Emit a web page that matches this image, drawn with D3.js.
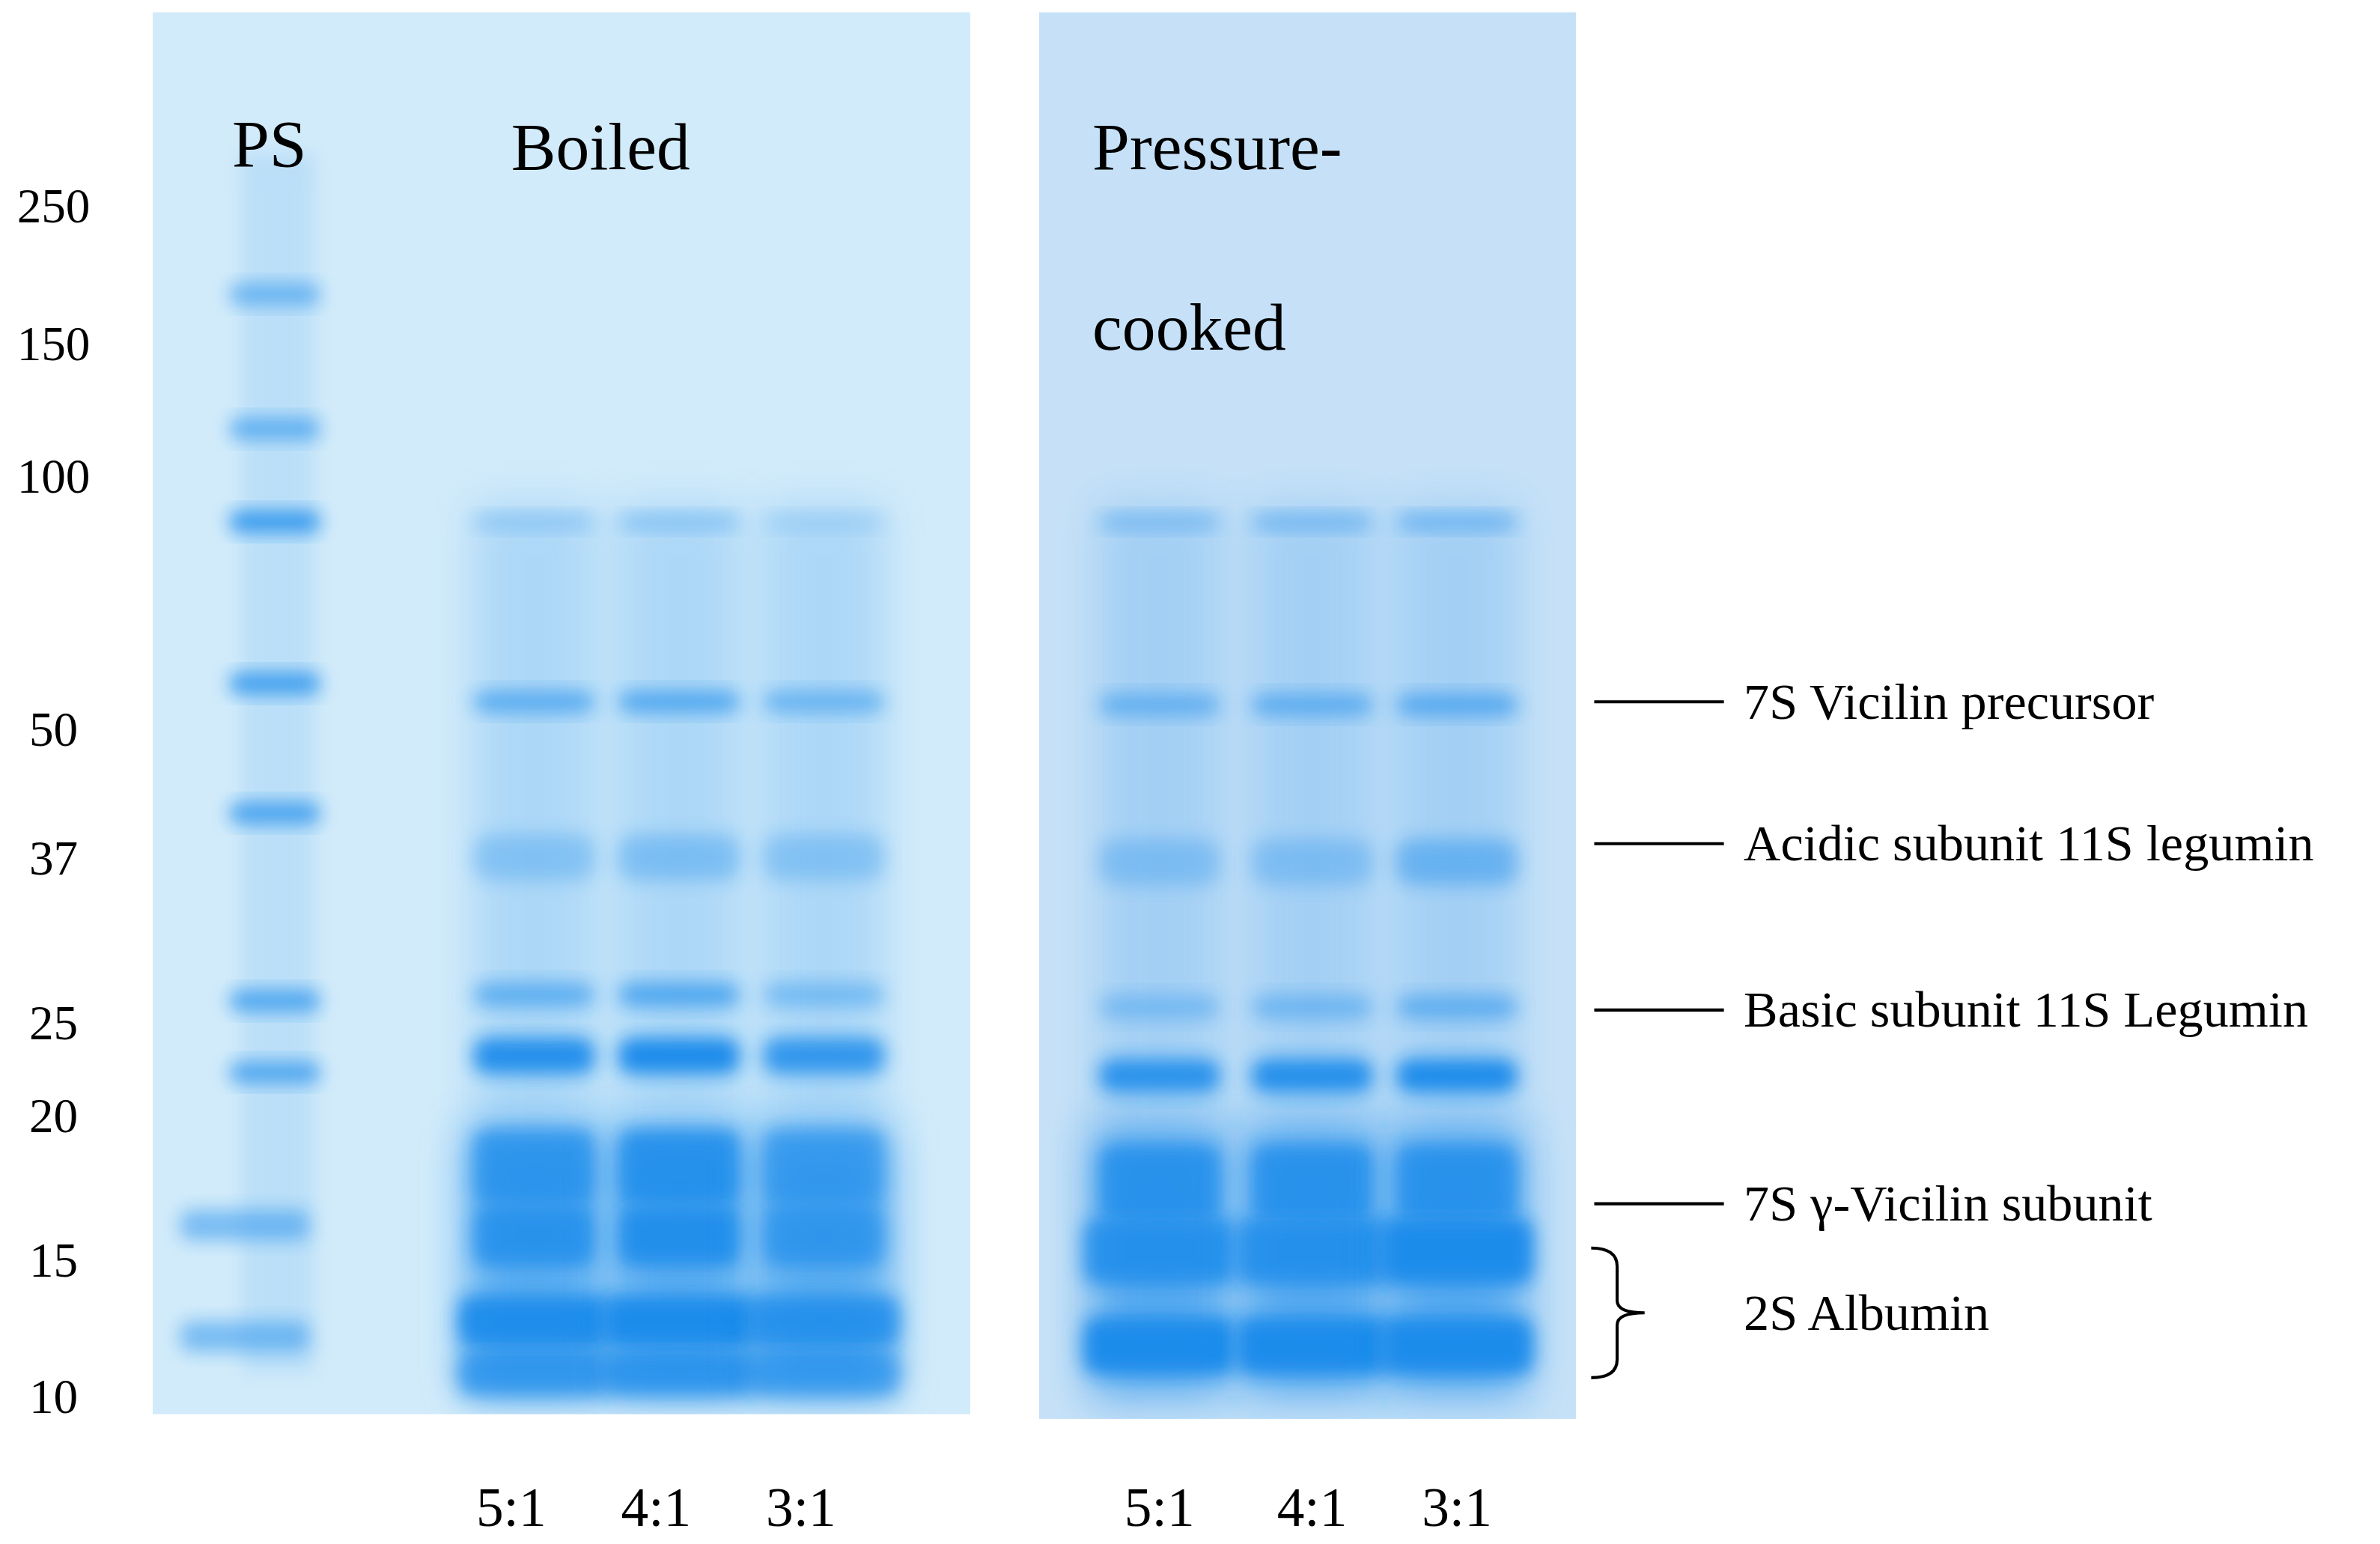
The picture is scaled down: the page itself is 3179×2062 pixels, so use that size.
<!DOCTYPE html>
<html><head><meta charset="utf-8">
<script src="https://cdn.jsdelivr.net/npm/d3@7/dist/d3.min.js"></script>
<style>body{margin:0;background:#fff}</style>
</head><body><div id="chart"></div>
<script>
// molecular weight ladder labels (kDa) and the gel row they sit at
var mwLabels = ["250","150","100","50","37","25","20","15","10"];
var mwRows = [135, 225, 312, 478, 562, 670, 731, 826, 915];
// marker bands (PS lane): row, strength
var markerRows = [193, 281, 342, 448, 533, 656, 703, 803, 876];
var markerStrength = [0.55, 0.6, 0.85, 0.8, 0.75, 0.7, 0.7, 0.5, 0.5];

var laneLabels = ["5:1", "4:1", "3:1"];
var boiledX = [350, 445, 540];
var cookedX = [760, 860, 955];

// sample bands: row, thickness, strength per lane
var boiledRows = [342, 460, 562, 652, 692, 765, 810, 866, 900];
var boiledSize = [10, 14, 30, 16, 24, 50, 40, 34, 30];
var boiledStrength = [
  [0.3, 0.6, 0.3, 0.55, 0.95, 0.75, 0.8, 0.95, 0.75],
  [0.35, 0.65, 0.35, 0.65, 1.0, 0.85, 0.9, 1.0, 0.8],
  [0.2, 0.5, 0.3, 0.4, 0.85, 0.65, 0.7, 0.85, 0.7]
];
var cookedRows = [342, 462, 565, 660, 705, 775, 820, 882];
var cookedSize = [10, 14, 30, 16, 22, 50, 44, 38];
var cookedStrength = [
  [0.4, 0.5, 0.3, 0.35, 0.9, 0.8, 0.85, 1.0],
  [0.45, 0.55, 0.3, 0.4, 0.95, 0.8, 0.85, 1.0],
  [0.5, 0.6, 0.45, 0.5, 1.0, 0.8, 1.0, 1.0]
];

var annotations = ["7S Vicilin precursor", "Acidic subunit 11S legumin", "Basic subunit 11S Legumin", "7S \u03b3-Vicilin subunit"];
var annotationRows = [460, 553, 662, 789];

var W = 1560, H = 1012;
var svg = d3.select("#chart").append("svg")
  .attr("width", 3179).attr("height", 2062)
  .attr("viewBox", "0 0 " + W + " " + H);

var y = d3.scaleLinear().domain([0, 1012]).range([0, H]);

var defs = svg.append("defs");
defs.append("filter").attr("id", "blur").attr("x", "-50%").attr("y", "-50%").attr("width", "200%").attr("height", "200%")
  .append("feGaussianBlur").attr("stdDeviation", 6);
defs.append("filter").attr("id", "blur2").attr("x", "-50%").attr("y", "-50%").attr("width", "200%").attr("height", "200%")
  .append("feGaussianBlur").attr("stdDeviation", 14);

var gels = [[100, 8, 536, 927, "#d2ebfa"], [681, 8, 352, 930, "#c6e1f7"]];
gels.forEach(function(g, i) {
  defs.append("clipPath").attr("id", "gel" + i).append("rect")
    .attr("x", g[0]).attr("y", y(g[1])).attr("width", g[2]).attr("height", y(g[3]) - y(g[1]));
});

var font = "'Liberation Serif', 'DejaVu Serif', serif";
var band = "#1a8ceb";

var gelG = gels.map(function(g, i) {
  var gg = svg.append("g").attr("clip-path", "url(#gel" + i + ")");
  gg.append("rect").attr("x", g[0]).attr("y", y(g[1])).attr("width", g[2]).attr("height", y(g[3]) - y(g[1])).attr("fill", g[4]);
  return gg;
});

// marker lane smear
gelG[0].append("rect").attr("x", 158).attr("y", y(100)).attr("width", 48).attr("height", y(900) - y(100))
  .attr("fill", band).attr("opacity", 0.12).attr("filter", "url(#blur)");
gelG[0].selectAll(".mk").data(markerRows).enter().append("rect")
  .attr("x", function(d, i) { return i > 6 ? 118 : 150; })
  .attr("width", function(d, i) { return i > 6 ? 85 : 60; })
  .attr("y", function(d, i) { return y(d) - (i > 6 ? 10 : 7); })
  .attr("height", function(d, i) { return i > 6 ? 20 : 14; }).attr("rx", 7)
  .attr("fill", band).attr("opacity", function(d, i) { return markerStrength[i]; })
  .attr("filter", "url(#blur)");

function drawLanes(g, xs, rows, sizes, strength, w) {
  xs.forEach(function(cx, li) {
    g.append("rect").attr("x", cx - w / 2).attr("y", y(330)).attr("width", w).attr("height", y(910) - y(330))
      .attr("fill", band).attr("opacity", 0.2).attr("filter", "url(#blur2)");
    g.append("rect").attr("x", cx - w / 2 - 5).attr("y", y(740)).attr("width", w + 10).attr("height", y(915) - y(740))
      .attr("fill", band).attr("opacity", 0.55).attr("filter", "url(#blur2)");
    g.selectAll(null).data(rows).enter().append("rect")
      .attr("x", function(d, i) { return cx - w / 2 - (i >= rows.length - 2 ? 10 : 0); })
      .attr("width", function(d, i) { return w + (i >= rows.length - 2 ? 20 : 0); })
      .attr("y", function(d, i) { return y(d) - sizes[i] / 2; })
      .attr("height", function(d, i) { return sizes[i]; })
      .attr("rx", 10)
      .attr("fill", band)
      .attr("opacity", function(d, i) { return strength[li][i]; })
      .attr("filter", "url(#blur)");
  });
}
drawLanes(gelG[0], boiledX, boiledRows, boiledSize, boiledStrength, 80);
drawLanes(gelG[1], cookedX, cookedRows, cookedSize, cookedStrength, 80);

// MW labels
svg.selectAll(".mw").data(mwLabels).enter().append("text")
  .attr("x", 35).attr("y", function(d, i) { return y(mwRows[i]) + 11; })
  .attr("text-anchor", "middle").attr("font-family", font).attr("font-size", 32)
  .text(function(d) { return d; });

// titles
var titles = [["PS", 152, 95], ["Boiled", 335, 97], ["Pressure-", 716, 97], ["cooked", 716, 215]];
svg.selectAll(".tt").data(titles).enter().append("text")
  .attr("x", function(d) { return d[1]; }).attr("y", function(d) { return y(d[2]) + 14; })
  .attr("font-family", font).attr("font-size", 44).text(function(d) { return d[0]; });

// lane labels
boiledX.concat(cookedX).forEach(function(cx, i) {
  svg.append("text").attr("x", cx - (i < 3 ? 15 : 0)).attr("y", y(1000)).attr("text-anchor", "middle")
    .attr("font-family", font).attr("font-size", 36).text(laneLabels[i % 3]);
});

// annotations
annotations.forEach(function(t, i) {
  svg.append("line").attr("x1", 1045).attr("x2", 1130).attr("y1", y(annotationRows[i])).attr("y2", y(annotationRows[i]))
    .attr("stroke", "#000").attr("stroke-width", 2);
  svg.append("text").attr("x", 1143).attr("y", y(annotationRows[i]) + 11)
    .attr("font-family", font).attr("font-size", 33.5).text(t);
});
// bracket for 2S albumin
var b0 = y(818), b1 = y(903), bm = (b0 + b1) / 2;
svg.append("path").attr("fill", "none").attr("stroke", "#000").attr("stroke-width", 2)
  .attr("d", "M1043," + b0 + " Q1060," + b0 + " 1060," + (b0 + 12) + " L1060," + (bm - 8) + " Q1060," + bm + " 1078," + bm +
    " Q1060," + bm + " 1060," + (bm + 8) + " L1060," + (b1 - 12) + " Q1060," + b1 + " 1043," + b1);
svg.append("text").attr("x", 1143).attr("y", bm + 11).attr("font-family", font).attr("font-size", 33.5).text("2S Albumin");
</script></body></html>
